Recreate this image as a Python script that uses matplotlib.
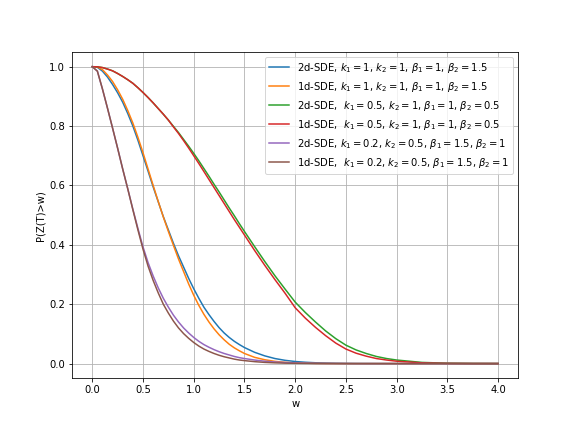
import matplotlib
matplotlib.use("Agg")
import matplotlib.pyplot as plt

# w grid: 0.05 steps to 1.5, 0.1 steps to 3.0, then 0.25 steps
w = [0.0, 0.05, 0.1, 0.15, 0.2, 0.25, 0.3, 0.35, 0.4, 0.45, 0.5, 0.55, 0.6, 0.65,
     0.7, 0.75, 0.8, 0.85, 0.9, 0.95, 1.0, 1.05, 1.1, 1.15, 1.2, 1.25, 1.3, 1.35,
     1.4, 1.45, 1.5,
     1.6, 1.7, 1.8, 1.9, 2.0, 2.1, 2.2, 2.3, 2.4, 2.5, 2.6, 2.7, 2.8, 2.9, 3.0,
     3.25, 3.5, 3.75, 4.0]

p_2d_a = [1.0, 0.998, 0.985, 0.965, 0.94, 0.912, 0.88, 0.842, 0.80, 0.752, 0.70,
          0.648, 0.595, 0.545, 0.495, 0.45, 0.405, 0.363, 0.325, 0.287, 0.252, 0.22,
          0.19, 0.165, 0.142, 0.121, 0.103, 0.088, 0.075, 0.064, 0.054,
          0.038, 0.026, 0.017, 0.011, 0.007, 0.0045, 0.0028, 0.0017, 0.001, 0.0006,
          0.0003, 0.0002, 0.0001, 0.0, 0.0,
          0.0, 0.0, 0.0, 0.0]
p_1d_a = [1.0, 0.999, 0.99, 0.972, 0.95, 0.922, 0.89, 0.852, 0.81, 0.762, 0.71,
          0.655, 0.60, 0.546, 0.494, 0.445, 0.398, 0.352, 0.31, 0.268, 0.23, 0.196,
          0.166, 0.14, 0.117, 0.097, 0.08, 0.065, 0.053, 0.043, 0.034,
          0.021, 0.013, 0.0075, 0.0043, 0.0024, 0.0013, 0.0007, 0.0004, 0.0002,
          0.0001, 0.0, 0.0, 0.0, 0.0, 0.0,
          0.0, 0.0, 0.0, 0.0]
p_2d_b = [1.0, 0.9995, 0.997, 0.992, 0.986, 0.977, 0.967, 0.956, 0.944, 0.929, 0.913,
          0.896, 0.878, 0.859, 0.84, 0.82, 0.799, 0.778, 0.755, 0.732, 0.708, 0.683,
          0.657, 0.631, 0.604, 0.578, 0.551, 0.524, 0.498, 0.471, 0.445,
          0.394, 0.344, 0.296, 0.251, 0.207, 0.172, 0.14, 0.11, 0.084, 0.062, 0.046,
          0.034, 0.024, 0.017, 0.012,
          0.004, 0.0012, 0.0003, 0.0]
p_1d_b = [1.0, 0.9995, 0.997, 0.992, 0.986, 0.977, 0.967, 0.956, 0.944, 0.929, 0.913,
          0.896, 0.878, 0.859, 0.84, 0.82, 0.797, 0.775, 0.751, 0.726, 0.70, 0.674,
          0.647, 0.62, 0.593, 0.566, 0.539, 0.512, 0.485, 0.459, 0.433,
          0.381, 0.331, 0.283, 0.237, 0.188, 0.153, 0.122, 0.094, 0.069, 0.049, 0.035,
          0.025, 0.017, 0.012, 0.008,
          0.0025, 0.0007, 0.0001, 0.0]
p_2d_c = [1.0, 0.985, 0.925, 0.86, 0.793, 0.725, 0.655, 0.588, 0.52, 0.455, 0.393,
          0.34, 0.295, 0.255, 0.22, 0.19, 0.163, 0.14, 0.12, 0.103, 0.088, 0.075,
          0.064, 0.055, 0.047, 0.04, 0.034, 0.029, 0.024, 0.02, 0.017,
          0.012, 0.008, 0.0055, 0.0035, 0.0022, 0.0014, 0.0008, 0.0005, 0.0003,
          0.0002, 0.0, 0.0, 0.0, 0.0, 0.0,
          0.0, 0.0, 0.0, 0.0]
p_1d_c = [1.0, 0.985, 0.925, 0.86, 0.793, 0.725, 0.655, 0.588, 0.518, 0.45, 0.385,
          0.328, 0.28, 0.238, 0.2, 0.17, 0.143, 0.12, 0.101, 0.085, 0.071, 0.059,
          0.049, 0.041, 0.034, 0.028, 0.023, 0.019, 0.015, 0.012, 0.01,
          0.0065, 0.004, 0.0025, 0.0015, 0.001, 0.0006, 0.0003, 0.0002, 0.0001,
          0.0, 0.0, 0.0, 0.0, 0.0, 0.0,
          0.0, 0.0, 0.0, 0.0]

labels = [
    r"2d-SDE, $k_1=1$, $k_2=1$, $\beta_1=1$, $\beta_2=1.5$",
    r"1d-SDE, $k_1=1$, $k_2=1$, $\beta_1=1$, $\beta_2=1.5$",
    r"2d-SDE,  $k_1=0.5$, $k_2=1$, $\beta_1=1$, $\beta_2=0.5$",
    r"1d-SDE,  $k_1=0.5$, $k_2=1$, $\beta_1=1$, $\beta_2=0.5$",
    r"2d-SDE, $k_1=0.2$, $k_2=0.5$, $\beta_1=1.5$, $\beta_2=1$",
    r"1d-SDE,  $k_1=0.2$, $k_2=0.5$, $\beta_1=1.5$, $\beta_2=1$",
]
series = [p_2d_a, p_1d_a, p_2d_b, p_1d_b, p_2d_c, p_1d_c]

fig, ax = plt.subplots(figsize=(8, 6), dpi=72)
fig.subplots_adjust(left=0.125, right=0.9, top=0.88, bottom=0.124)
for vals, lab in zip(series, labels):
    ax.plot(w, vals, linewidth=1.5, label=lab)

ax.set_xlabel("w")
ax.set_ylabel("P(Z(T)>w)")
ax.grid(True)
ax.legend(loc="upper right")
fig.savefig("out.png", dpi=72)
